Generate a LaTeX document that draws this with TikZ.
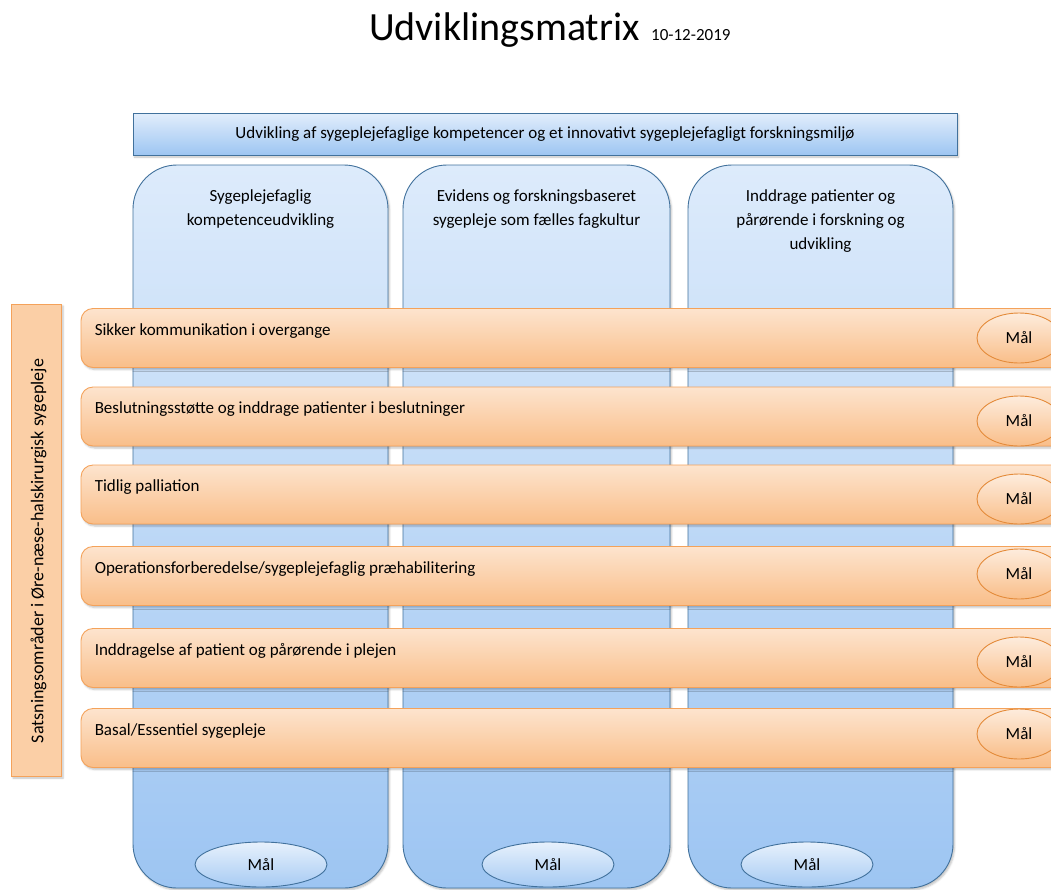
\documentclass[tikz,border=0pt]{standalone}
\usepackage{fontspec}
\setmainfont{Carlito}
\usetikzlibrary{positioning,shapes.geometric,shadows.blur}
\definecolor{bluetop} {HTML}{DDEBFB}
\definecolor{bluebot} {HTML}{9DC5F2}
\definecolor{blueline}{HTML}{41719C}
\definecolor{orantop} {HTML}{FDE4CE}
\definecolor{oranbot} {HTML}{F9BE89}
\definecolor{oranline}{HTML}{F4A25A}
\definecolor{sidefill}{HTML}{FBCFA6}
\definecolor{maalline}{HTML}{E48B3A}

\begin{document}
\begin{tikzpicture}[x=1pt,y=-1pt,
  shade/.style={blur shadow={shadow xshift=1.5pt,shadow yshift=-2pt,shadow opacity=25}},
  colbox/.style={draw=blueline, line width=0.9pt, rounded corners=44pt,
    top color=bluetop, bottom color=bluebot, shade, minimum height=723},
  barbox/.style={draw=blueline, line width=0.9pt, top color=bluetop!85, bottom color=bluebot,
    shade, minimum width=824, minimum height=42, font=\fontsize{17}{20}\selectfont},
  rowbox/.style={draw=oranline, line width=0.9pt, rounded corners=12pt,
    top color=orantop, bottom color=oranbot, shade, minimum width=1034, minimum height=59},
  sidebox/.style={draw=oranline, line width=0.9pt, fill=sidefill, shade,
    minimum width=50, minimum height=472},
  maalo/.style={ellipse, draw=maalline, line width=0.9pt, top color=orantop!70, bottom color=oranbot,
    minimum width=84, minimum height=50, inner sep=0pt, font=\fontsize{17}{20}\selectfont},
  maalb/.style={ellipse, draw=blueline, line width=0.9pt, top color=bluetop!70, bottom color=bluebot!90,
    minimum width=132, minimum height=45, inner sep=0pt, font=\fontsize{17}{20}\selectfont},
  hdtext/.style={align=center, font=\fontsize{17}{24}\selectfont},
  rowtext/.style={font=\fontsize{17}{20}\selectfont, inner sep=0pt}]
  \useasboundingbox (0,0) rectangle (1051,889);
  \clip (0,0) rectangle (1051,889);

  % title
  \node[anchor=base west, inner sep=0pt, font=\fontsize{40}{48}\selectfont]
    (title) at (369,40) {Udviklingsmatrix};
  \node[anchor=base west, inner sep=0pt, font=\fontsize{17}{20}\selectfont]
    (date) at ([xshift=11pt]title.base east) {10-12-2019};

  % columns
  \foreach \n/\cx/\colw/\mx/\txt in {
      1/260.5/255/261/{Sygeplejefaglig\\kompetenceudvikling},
      2/536.5/267/548/{Evidens og forskningsbaseret\\sygepleje som fælles fagkultur},
      3/820.5/265/807/{Inddrage patienter og\\pårørende i forskning og\\udvikling}}{
    \node[colbox, minimum width=\colw] (col\n) at (\cx,526.5) {};
    \node[hdtext, anchor=north] (colhd\n) at ([yshift=-22pt]col\n.north) {\txt};
    \node[maalb] (colmaal\n) at (\mx,864.5) {Mål};
  }

  \node[barbox] (goal) at (545,134)
    {Udvikling af sygeplejefaglige kompetencer og et innovativt sygeplejefagligt forskningsmiljø};

  % side label
  \node[sidebox] (side) at (36.5,540) {};
  \node[rotate=90, font=\fontsize{18}{21}\selectfont] (sidetxt) at ([xshift=2pt,yshift=-11pt]side.center)
    {Satsningsområder i Øre-næse-halskirurgisk sygepleje};

  % rows
  \foreach \n/\cy/\my/\txt in {
      1/338/338/{Sikker kommunikation i overgange},
      2/416.5/421/{Beslutningsstøtte og inddrage patienter i beslutninger},
      3/494.5/499/{Tidlig palliation},
      4/576/574/{Operationsforberedelse/sygeplejefaglig præhabilitering},
      5/658/662/{Inddragelse af patient og pårørende i plejen},
      6/738/734/{Basal/Essentiel sygepleje}}{
    \node[rowbox] (row\n) at (598,\cy) {};
    \node[rowtext, anchor=west] (rowtxt\n) at ([xshift=14pt,yshift=-23pt]row\n.north west) {\txt};
    \node[maalo] (rowmaal\n) at (1019,\my) {Mål};
  }
\end{tikzpicture}
\end{document}
